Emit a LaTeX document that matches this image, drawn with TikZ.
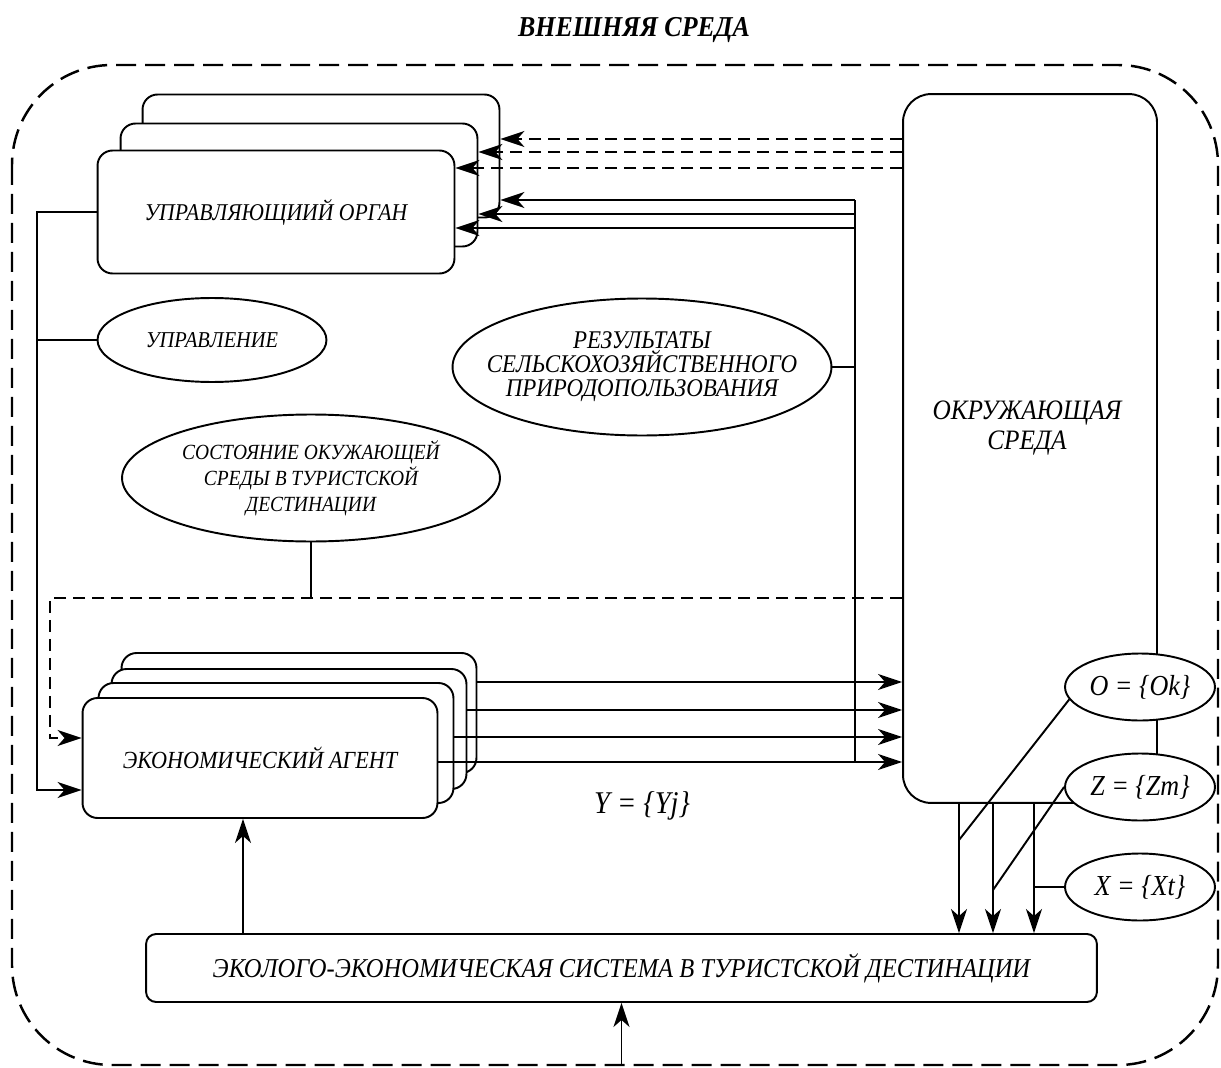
\documentclass[tikz,border=0pt]{standalone}
\usepackage{fontspec}
\setmainfont{Liberation Serif}[FakeStretch=0.9]
\usetikzlibrary{arrows.meta,shapes.geometric,calc}

\tikzset{
  card/.style={draw, line width=1.1pt, rounded corners=0.3cm, fill=white, inner sep=0pt, align=center},
  oval/.style={draw, ellipse, line width=1.1pt, fill=white, inner sep=0pt, align=center},
  organsize/.style={minimum width=7.14cm, minimum height=2.46cm},
  agentsize/.style={minimum width=7.1cm, minimum height=2.4cm},
  setsize/.style={minimum width=3cm, minimum height=1.34cm, font=\itshape\fontsize{16.5}{19}\selectfont},
  link/.style={line width=1.1pt},
  feed/.style={line width=1.1pt, dash pattern=on 0.24cm off 0.14cm},
  frame/.style={line width=1.4pt, dash pattern=on 0.4cm off 0.18cm, rounded corners=2cm}
}

\begin{document}
\begin{tikzpicture}[x=0.02cm, y=-0.02cm, font=\itshape,
    >={Stealth[length=0.48cm, width=0.32cm, inset=0.14cm]}]
  \useasboundingbox (0,0) rectangle (1221,1068);

  % outer environment
  \node[font=\bfseries\itshape\fontsize{16.4}{20}\selectfont] (title) at (634,30) {ВНЕШНЯЯ СРЕДА};
  \draw[frame] (12,65) rectangle (1218,1065);
  \coordinate (outerS) at (621,1065);

  % governing body (stacked)
  \node[card, organsize] (organ3) at (321,156) {};
  \node[card, organsize] (organ2) at (299,185) {};
  \node[card, organsize, font=\itshape\fontsize{13.7}{17}\selectfont] (organ) at (276,212) {УПРАВЛЯЮЩИИЙ ОРГАН};

  % economic agents (stacked)
  \node[card, agentsize] (agent4) at (299,713) {};
  \node[card, agentsize] (agent3) at (289,729) {};
  \node[card, agentsize] (agent2) at (276,743) {};
  \node[card, agentsize, font=\itshape\fontsize{14}{17}\selectfont] (agent) at (260,758) {ЭКОНОМИЧЕСКИЙ АГЕНТ};

  % surroundings
  \node[card, rounded corners=0.56cm, minimum width=5.08cm, minimum height=14.18cm] (env) at (1030,448.5) {};
  \node[font=\itshape\fontsize{16}{17}\selectfont, align=center] (envtext) at (1027,428) {ОКРУЖАЮЩАЯ\\СРЕДА};

  % system
  \node[card, rounded corners=0.2cm, minimum width=19.02cm, minimum height=1.36cm, font=\itshape\fontsize{15.5}{18}\selectfont] (sys) at (621.5,968) {ЭКОЛОГО-ЭКОНОМИЧЕСКАЯ СИСТЕМА В ТУРИСТСКОЙ ДЕСТИНАЦИИ};

  % flows
  \node[oval, minimum width=4.58cm, minimum height=1.68cm, font=\itshape\fontsize{12.9}{14}\selectfont] (ctrl) at (212,340) {УПРАВЛЕНИЕ};
  \node[oval, minimum width=7.58cm, minimum height=2.74cm,
        label={[font=\itshape\fontsize{14.5}{13.6}\selectfont, align=center]center:РЕЗУЛЬТАТЫ\\СЕЛЬСКОХОЗЯЙСТВЕННОГО\\ПРИРОДОПОЛЬЗОВАНИЯ}] (result) at (642,367) {};
  \node[oval, minimum width=7.56cm, minimum height=2.54cm,
        label={[font=\itshape\fontsize{12.3}{14.7}\selectfont, align=center]center:СОСТОЯНИЕ ОКУЖАЮЩЕЙ\\СРЕДЫ В ТУРИСТСКОЙ\\ДЕСТИНАЦИИ}] (state) at (311,478) {};
  \node[font=\itshape\fontsize{18}{20}\selectfont] (ylab) at (642,806) {Y = \{Yj\}};

  % left bus
  \coordinate (busL) at (37,790);
  \coordinate (inA) at (0,738);
  \coordinate (dashL) at (50,598);
  \draw[link,->] (organ.west) -| (busL) -- (busL -| agent.west);
  \draw[link] (ctrl.west) -- (ctrl.west -| busL);
  \draw[link] (state.south) -- (state.south |- dashL);
  \draw[feed,->] (env.west |- dashL) -- (dashL) |- (agent.west |- inA);

  % right bus
  \coordinate (busR) at (855,200);
  \coordinate (busRend) at (855,762);
  \draw[link] (busR) -- (busRend);
  \draw[link] (result.east) -- (result.east -| busR);
  \foreach \dst/\y in {organ3/200, organ2/214, organ/228} {
    \coordinate (p) at (0,\y);
    \draw[link,->] (busR |- p) -- (\dst.east |- p);
  }
  \foreach \dst/\y in {organ3/139, organ2/152, organ/168} {
    \coordinate (p) at (0,\y);
    \draw[feed,->] (env.west |- p) -- (\dst.east |- p);
  }
  \foreach \src/\y in {agent4/682, agent3/710, agent2/737, agent/762} {
    \coordinate (p) at (0,\y);
    \draw[link,->] (\src.east |- p) -- (env.west |- p);
  }

  % outputs of the surroundings
  \foreach \x in {959, 993, 1034} {
    \coordinate (p) at (\x,0);
    \draw[link,->] (env.south -| p) -- (sys.north -| p);
  }
  \node[oval, setsize] (setO) at (1140,687) {O = \{Ok\}};
  \node[oval, setsize] (setZ) at (1140,787) {Z = \{Zm\}};
  \node[oval, setsize] (setX) at (1140,887) {X = \{Xt\}};
  \coordinate (tapO) at (959,840);
  \coordinate (tapZ) at (993,890);
  \coordinate (tapX) at (1034,887);
  \draw[link] (setO.190) -- (tapO);
  \draw[link] (setZ.west) -- (tapZ);
  \draw[link] (setX.west) -- (tapX);

  % system links
  \coordinate (upA) at (243,0);
  \draw[link,->] (sys.north -| upA) -- (agent.south -| upA);
  \draw[link,->] (sys.south |- outerS) -- (sys.south);
\end{tikzpicture}
\end{document}
